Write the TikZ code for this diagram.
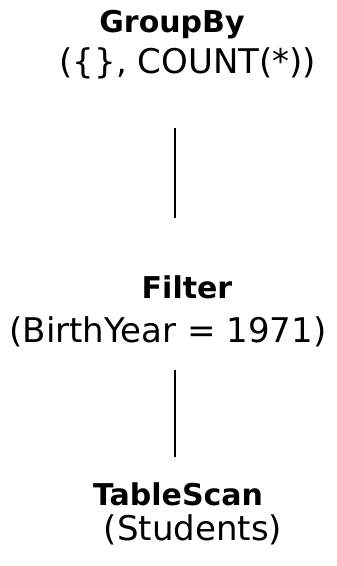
\documentclass[tikz,border=0pt]{standalone}
\usepackage{fontspec}
\setmainfont{DejaVu Sans}
\usepackage{tikz}
\usetikzlibrary{positioning,calc}

\begin{document}
\begin{tikzpicture}[x=1pt, y=-1pt,
    op/.style={inner sep=0pt, anchor=base, font=\fontsize{30}{36}\selectfont\bfseries},
    arg/.style={inner sep=0pt, anchor=base, font=\fontsize{34}{40}\selectfont},
    edge/.style={line width=1.6pt}
]
    \useasboundingbox (0,0) rectangle (337,566);

    \node[op]  (groupby)  at (172,32)  {GroupBy};
    \node[arg] (grouparg) at (188,73)  {(\{\}, COUNT(*))};

    \node[op]  (filter)    at (187,298) {Filter};
    \node[arg] (filterarg) at (168,342) {(BirthYear = 1971)};

    \node[op]  (scan)    at (178,505) {TableScan};
    \node[arg] (scanarg) at (193,540) {(Students)};

    % plain lines between the operators
    \coordinate (g1) at (175,128);
    \coordinate (g2) at (175,218);
    \coordinate (f1) at (175,370);
    \coordinate (f2) at (175,457);
    \draw[edge] (g1) -- (g2);
    \draw[edge] (f1) -- (f2);
\end{tikzpicture}
\end{document}
